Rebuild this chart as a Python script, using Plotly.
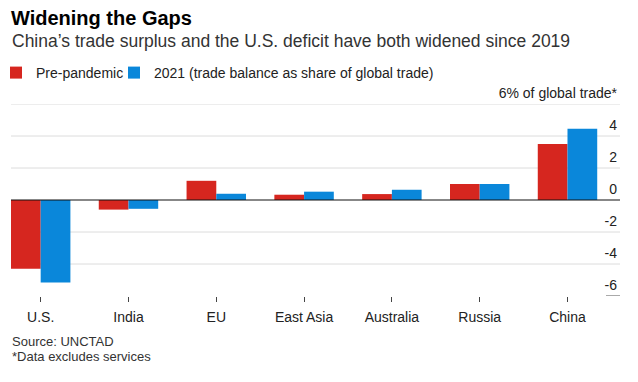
import plotly.graph_objects as go

categories = ["U.S.", "India", "EU", "East Asia", "Australia", "Russia", "China"]
pre_pandemic = [-4.3, -0.6, 1.2, 0.33, 0.37, 1.0, 3.5]
y2021 = [-5.15, -0.55, 0.39, 0.52, 0.64, 1.0, 4.45]
y_tickvals = [6, 4, 2, 0, -2, -4, -6]
y_ticktext = ["6% of global trade*", "4", "2", "0", "-2", "-4", "-6"]

RED = "#d6261f"
BLUE = "#0a87da"
FONT = "Liberation Sans, Arial, sans-serif"

W, H = 638, 382
L, R, T, B = 11, 18, 104, 86
PW = W - L - R
PH = H - T - B


def px_x(px):
    return (px - L) / PW


def px_y(py):
    return (H - B - py) / PH


fig = go.Figure()
fig.add_trace(go.Bar(x=categories, y=pre_pandemic, name="Pre-pandemic", legend="legend",
                     marker=dict(color=RED, line=dict(width=0))))
fig.add_trace(go.Bar(x=categories, y=y2021, name="2021 (trade balance as share of global trade)",
                     legend="legend2", marker=dict(color=BLUE, line=dict(width=0))))

# gridlines (all but the bottom one full width), bottom one as a short stub
for v in y_tickvals:
    if v == 0:
        continue
    if v == -6:
        fig.add_shape(type="line", xref="paper", yref="y", x0=px_x(606), x1=1,
                      y0=v, y1=v, line=dict(color="#aaaaaa", width=2), layer="below")
    else:
        fig.add_shape(type="line", xref="paper", yref="y", x0=0, x1=1, y0=v, y1=v,
                      line=dict(color="#dcdcdc", width=1), layer="below")
fig.add_shape(type="line", xref="paper", yref="y", x0=0, x1=1, y0=0, y1=0,
              line=dict(color="#111111", width=1.2), layer="above")

legend_common = dict(orientation="h", xref="paper", yref="paper", y=px_y(73),
                     xanchor="left", yanchor="middle", font=dict(size=14, color="#222222"),
                     itemwidth=30, bgcolor="rgba(0,0,0,0)")

fig.update_layout(
    width=W, height=H,
    margin=dict(l=L, r=R, t=T, b=B, autoexpand=False),
    paper_bgcolor="white", plot_bgcolor="white",
    barmode="group", bargap=0.323, bargroupgap=0,
    font=dict(family=FONT, color="#222222", size=14),
    title=dict(text="<b>Widening the Gaps</b>", x=11 / W, xanchor="left", xref="container",
               y=1 - 18 / H, yanchor="middle", yref="container",
               font=dict(size=20, color="#000000", family=FONT)),
    showlegend=True,
    legend=dict(x=px_x(-4), **legend_common),
    legend2=dict(x=px_x(114), **legend_common),
    xaxis=dict(range=[-0.338, 6.598], showgrid=False, zeroline=False, showline=False,
               ticks="outside", ticklen=5, tickwidth=1, tickcolor="#444444",
               ticklabelstandoff=3,
               tickfont=dict(size=14, color="#222222"), fixedrange=True),
    yaxis=dict(range=[-6, 6], side="right", tickvals=y_tickvals, ticktext=y_ticktext,
               ticklabelposition="inside", ticklabeloverflow="allow", ticklabelshift=-11,
               ticklabelstandoff=0, ticks="", showgrid=False, zeroline=False, showline=False,
               tickfont=dict(size=14, color="#222222"), fixedrange=True),
    annotations=[
        dict(text="China’s trade surplus and the U.S. deficit have both widened since 2019",
             xref="paper", yref="paper", x=px_x(10), y=px_y(41),
             xanchor="left", yanchor="middle", showarrow=False,
             font=dict(size=17.5, color="#333333", family=FONT)),
        dict(text="Source: UNCTAD", xref="paper", yref="paper", x=px_x(10),
             y=px_y(341), xanchor="left", yanchor="middle",
             showarrow=False, font=dict(size=13, color="#333333", family=FONT)),
        dict(text="*Data excludes services", xref="paper", yref="paper", x=px_x(10),
             y=px_y(356), xanchor="left", yanchor="middle",
             showarrow=False, font=dict(size=13, color="#333333", family=FONT)),
    ],
)

fig.write_html("out.html", config={"displayModeBar": False},
               post_script="document.body.style.margin='0';")
